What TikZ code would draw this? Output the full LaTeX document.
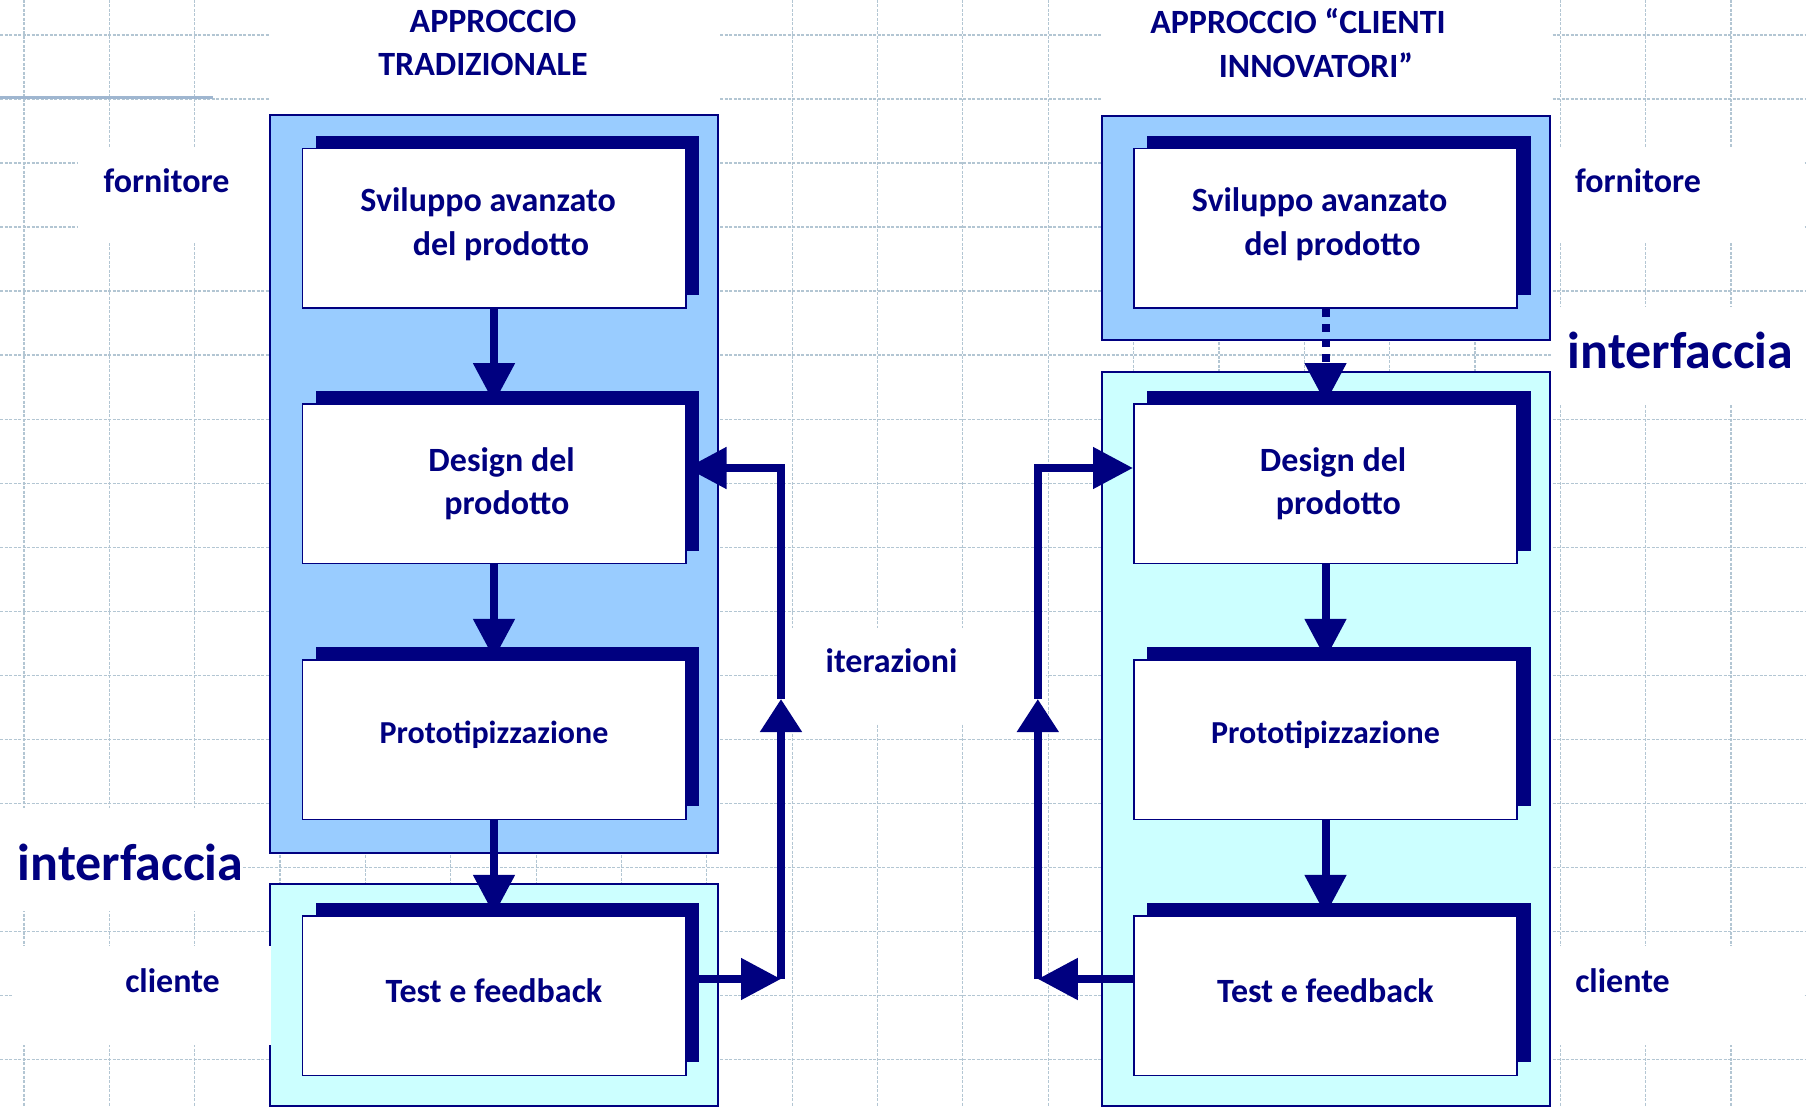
\documentclass[tikz,border=0pt]{standalone}
\usepackage{fontspec}
\setmainfont{Carlito}
\usetikzlibrary{arrows.meta,shadows}
\definecolor{navy}{HTML}{000080}
\definecolor{contblue}{HTML}{99CCFF}
\definecolor{contcyan}{HTML}{CCFFFF}
\definecolor{gridc}{HTML}{B3C6D3}
\definecolor{toplinec}{HTML}{9FB6D0}
\pgfdeclarelayer{gridlayer}
\pgfdeclarelayer{contlayer}
\pgfdeclarelayer{arrlayer}
\pgfsetlayers{gridlayer,contlayer,arrlayer,main}
\begin{document}
\begin{tikzpicture}[x=0.5pt,y=-0.5pt,
  stagebox/.style={draw=navy, line width=0.8pt, fill=white, text=navy,
    minimum width=191.7pt, minimum height=79.8pt, align=center, inner sep=0pt,
    font=\fontsize{17}{21.7}\selectfont\bfseries,
    general shadow={shadow xshift=6.75pt, shadow yshift=6.5pt, fill=navy}},
  contbox/.style={draw=navy, line width=1pt, inner sep=0pt},
  lbl/.style={font=\fontsize{17}{21.7}\selectfont\bfseries, text=navy, inner sep=0pt},
  biglbl/.style={font=\fontsize{26}{31}\selectfont\bfseries, text=navy, inner sep=0pt},
  flow/.style={draw=navy, line width=4pt, -{Triangle[length=20pt,width=20pt]}},
  flowmid/.style={draw=navy, line width=4pt, -{Triangle[length=16.5pt,width=20pt]}},
  dotflow/.style={flow, dash pattern=on 4pt off 3.5pt},
  gridline/.style={draw=gridc, line width=0.6pt, dash pattern=on 1.5pt off 0.75pt},
  mask/.style={fill=white}
]
\useasboundingbox (0,0) rectangle (1806,1107);

% ---------- background grid ----------
\begin{pgfonlayer}{gridlayer}
  \fill[white] (0,0) rectangle (1806,1107);
  \foreach \k in {0,...,20} \draw[gridline] ({24+85.35*\k},0) -- ({24+85.35*\k},1107);
  \foreach \k in {0,...,16} \draw[gridline] (0,{35+64.02*\k}) -- (1806,{35+64.02*\k});
  \draw[toplinec, line width=1.2pt] (0,97.5) -- (213,97.5);
  \fill[mask] (270,0) rectangle (719,114);
  \fill[mask] (1101,0) rectangle (1551,115);
  \fill[mask] (78,148) rectangle (270,243);
  \fill[mask] (0,808) rectangle (243,911);
  \fill[mask] (778,628) rectangle (1046,724);
  \fill[mask] (1551,148) rectangle (1804,243);
  \fill[mask] (1551,307) rectangle (1806,404);
  \fill[mask] (1551,946) rectangle (1804,1045);
\end{pgfonlayer}

% ---------- containers ----------
\begin{pgfonlayer}{contlayer}
  \node[contbox, fill=contblue, minimum width=224.4pt, minimum height=368.75pt] (lsup) at (493.9,483.75) {};
  \node[contbox, fill=contcyan, minimum width=224.4pt, minimum height=111.1pt] (lcli) at (493.9,994.6) {};
  \node[contbox, fill=contblue, minimum width=224pt, minimum height=112pt] (rsup) at (1326,228) {};
  \node[contbox, fill=contcyan, minimum width=224pt, minimum height=366.75pt] (rcli) at (1326,738.75) {};
  \fill[mask] (12,946) rectangle (270.9,1045);
\end{pgfonlayer}

% ---------- titles and labels ----------
\node[lbl, align=center] (tleft) at (483,43) {\hspace*{10pt}APPROCCIO\\TRADIZIONALE};
\node[lbl, align=center] (tright) at (1298,43) {APPROCCIO “CLIENTI\\\hspace*{18pt}INNOVATORI”};
\node[lbl, anchor=base] (fornl) at (166.5,192.7) {fornitore};
\node[lbl, anchor=base] (clil) at (172.5,992.7) {cliente};
\node[biglbl, anchor=base] (intl) at (130.5,880) {interfaccia};
\node[lbl, anchor=base] (iter) at (891.5,672.5) {iterazioni};
\node[lbl, anchor=base] (fornr) at (1638,192.7) {fornitore};
\node[biglbl, anchor=base] (intr) at (1680.5,368.3) {interfaccia};
\node[lbl, anchor=base] (clir) at (1622.5,992.7) {cliente};

% ---------- stage boxes ----------
\tikzset{
  svbox/.style={stagebox, text depth=7pt},
  protobox/.style={stagebox, text depth=7.6pt, font=\fontsize{16}{20}\selectfont\bfseries},
  testbox/.style={stagebox, text depth=4.6pt}
}
\node[svbox] (L1) at (494,228.5) {Sviluppo avanzato\hspace*{6pt}\\\hspace*{7pt}del prodotto};
\node[stagebox] (L2) at (494,483.75) {\hspace*{7.6pt}Design del\\\hspace*{12.8pt}prodotto};
\node[protobox] (L3) at (494,739.5) {Prototipizzazione};
\node[testbox] (L4) at (494,995.5) {Test e feedback};

\node[svbox] (R1) at (1325.5,228.5) {Sviluppo avanzato\hspace*{6pt}\\\hspace*{7pt}del prodotto};
\node[stagebox] (R2) at (1325.5,483.75) {\hspace*{7.6pt}Design del\\\hspace*{12.8pt}prodotto};
\node[protobox] (R3) at (1325.5,739.5) {Prototipizzazione};
\node[testbox] (R4) at (1325.5,995.5) {Test e feedback};

% ---------- connectors ----------
\coordinate (lb) at (781,979);
\coordinate (lm) at (781,699);
\coordinate (lt) at (781,468);
\coordinate (rb) at (1037.8,979);
\coordinate (rm) at (1037.8,699);
\coordinate (rt) at (1037.8,468);

\begin{pgfonlayer}{arrlayer}
  \draw[flow] (L1.south) -- (L2.north);
  \draw[flow] (L2.south) -- (L3.north);
  \draw[flow] (L3.south) -- (L4.north);
  \draw[flow] (L4.east |- lb) -- (lb);
  \draw[flowmid] (lb) -- (lm);
  \draw[flow] (lm) -- (lt) -- (L2.east |- lt);

  \draw[dotflow] (R1.south) -- (R2.north);
  \draw[flow] (R2.south) -- (R3.north);
  \draw[flow] (R3.south) -- (R4.north);
  \draw[flow] (R4.west |- rb) -- (rb);
  \draw[flowmid] (rb) -- (rm);
  \draw[flow] (rm) -- (rt) -- (R2.west |- rt);
\end{pgfonlayer}
\end{tikzpicture}
\end{document}
